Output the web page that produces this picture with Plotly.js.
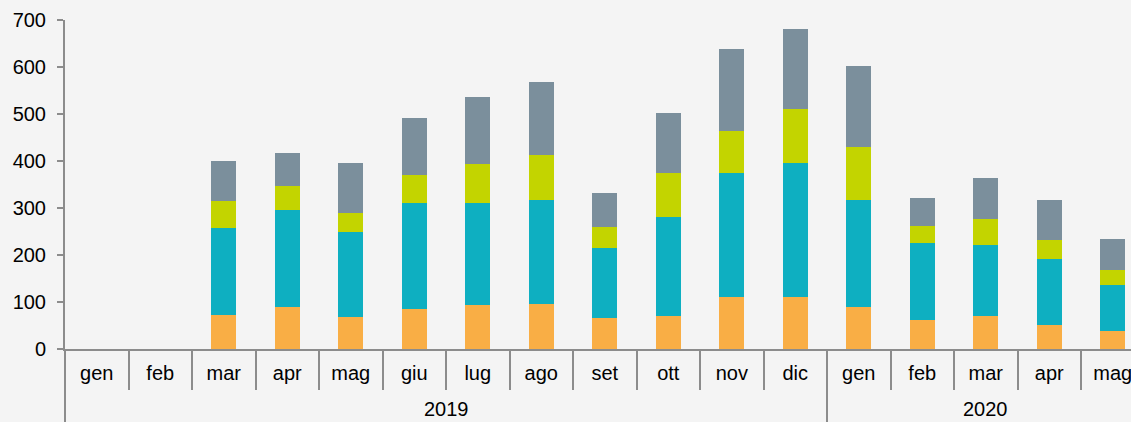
<!DOCTYPE html>
<html>
<head>
<meta charset="utf-8">
<script src="https://cdn.plot.ly/plotly-3.0.1.min.js"></script>
<style>
  html, body { margin: 0; padding: 0; background: #f4f4f4; }
  #chart { width: 1131px; height: 422px; }
</style>
</head>
<body>
<div id="chart"></div>
<script>
const years = ['2019','2019','2019','2019','2019','2019','2019','2019','2019','2019','2019','2019','2020','2020','2020','2020','2020'];
const months = ['gen','feb','mar','apr','mag','giu','lug','ago','set','ott','nov','dic','gen','feb','mar','apr','mag'];

const serie1 = [null, null, 72, 90, 69, 85, 93, 96, 66, 71, 110, 111, 89, 61, 71, 51, 39];
const serie2 = [null, null, 186, 206, 180, 226, 217, 221, 149, 209, 265, 285, 229, 164, 151, 140, 98];
const serie3 = [null, null, 57, 51, 41, 60, 83, 95, 45, 94, 88, 115, 112, 37, 55, 41, 32];
const serie4 = [null, null, 85, 71, 105, 121, 144, 156, 72, 128, 175, 170, 172, 60, 87, 84, 66];

const seriesNames = ['Serie 1', 'Serie 2', 'Serie 3', 'Serie 4'];
const seriesValues = [serie1, serie2, serie3, serie4];
const colors = ['#F9AE45', '#0EAFC1', '#C3D400', '#7B8F9C'];

// unique category keys, displayed with the month names
const cats = months.map((m, i) => years[i] + '-' + m);

const traces = seriesValues.map((vals, i) => ({
  type: 'bar',
  name: seriesNames[i],
  x: cats,
  y: vals,
  marker: { color: colors[i], line: { width: 0 } },
  hoverinfo: 'y+name'
}));

// year groups: label at the centre of each group, divider at each boundary
const groups = [];
years.forEach((y, i) => {
  if (!groups.length || groups[groups.length - 1].year !== y) groups.push({ year: y, first: i, last: i });
  else groups[groups.length - 1].last = i;
});

const axisColor = '#8c8c8c';
const plotH = 422 - 20 - 73;

const annotations = groups.map(g => ({
  xref: 'x', yref: 'paper',
  x: (g.first + g.last) / 2, y: 0,
  yshift: -60,
  text: g.year, showarrow: false,
  xanchor: 'center', yanchor: 'middle',
  font: { size: 20, color: '#000' }
}));

const shapes = [{
  type: 'line', xref: 'paper', yref: 'paper',
  x0: 0, x1: 0, y0: 0, y1: -73 / plotH,
  line: { color: axisColor, width: 2 }
}].concat(groups.slice(1).map(g => ({
  type: 'line', xref: 'x', yref: 'paper',
  x0: g.first - 0.5, x1: g.first - 0.5, y0: 0, y1: -73 / plotH,
  line: { color: axisColor, width: 2 }
})));

const layout = {
  width: 1131,
  height: 422,
  margin: { l: 65, r: 0, t: 20, b: 73, pad: 0 },
  paper_bgcolor: '#f4f4f4',
  plot_bgcolor: 'rgba(0,0,0,0)',
  barmode: 'stack',
  bargap: 0.606,
  showlegend: false,
  font: { family: 'Liberation Sans, Arial, sans-serif', size: 20, color: '#000' },
  xaxis: {
    type: 'category',
    range: [-0.5, 16.287],
    autorange: false,
    tickmode: 'array',
    tickvals: cats,
    ticktext: months,
    showline: true,
    linecolor: axisColor,
    linewidth: 2,
    ticks: 'outside',
    tickson: 'boundaries',
    ticklen: 39,
    tickwidth: 2,
    tickcolor: axisColor,
    ticklabelstandoff: 5,
    showgrid: false,
    zeroline: false,
    tickfont: { size: 20, color: '#000' }
  },
  yaxis: {
    range: [0, 700],
    autorange: false,
    dtick: 100,
    showline: true,
    linecolor: axisColor,
    linewidth: 2,
    ticks: 'outside',
    ticklen: 6,
    tickwidth: 2,
    tickcolor: axisColor,
    ticklabelstandoff: 7,
    showgrid: false,
    zeroline: false,
    tickfont: { size: 20, color: '#000' }
  },
  annotations: annotations,
  shapes: shapes
};

Plotly.newPlot('chart', traces, layout, { displayModeBar: false, staticPlot: true });
</script>
</body>
</html>
